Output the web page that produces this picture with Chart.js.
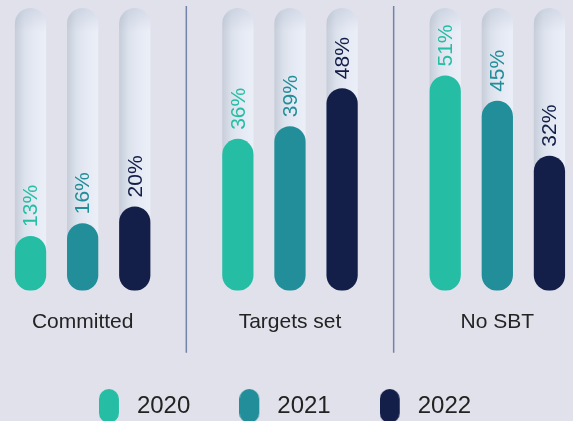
<!DOCTYPE html>
<html>
<head>
<meta charset="utf-8">
<title>SBT status by year</title>
<script src="https://cdn.jsdelivr.net/npm/chart.js@4.4.1/dist/chart.umd.min.js"></script>
<style>
  html, body { margin: 0; padding: 0; background: #e1e1eb; overflow: hidden; width: 573px; height: 421px; }
  #wrap { position: absolute; left: -21px; top: 0; width: 622px; height: 428px; }
</style>
</head>
<body>
<div id="wrap"><canvas id="sbtChart"></canvas></div>
<script>
// Chart data
const categories = ['Committed', 'Targets set', 'No SBT'];
const years = ['2020', '2021', '2022'];
const values2020 = [13, 36, 51];
const values2021 = [16, 39, 45];
const values2022 = [20, 48, 32];
const trackMax = [67, 67, 67];

const yearColors = ['#25bea5', '#228e99', '#131f49'];
const fontFamily = '"Liberation Sans", Arial, sans-serif';

Chart.defaults.font.family = fontFamily;

// Pill shaped legend markers (pill sits left of the image centre)
function makePill(color) {
    const c = document.createElement('canvas');
    c.width = 36;
    c.height = 34;
    const g = c.getContext('2d');
    g.fillStyle = color;
    g.beginPath();
    g.moveTo(0, 10);
    g.arc(10, 10, 10, Math.PI, 0);
    g.lineTo(20, 24);
    g.arc(10, 24, 10, 0, Math.PI);
    g.closePath();
    g.fill();
    return c;
}
const pills = yearColors.map(makePill);

function roundedBar(ctx, left, top, width, bottom) {
    const r = width / 2;
    ctx.beginPath();
    ctx.moveTo(left, top + r);
    ctx.arc(left + r, top + r, r, Math.PI, 0);
    ctx.lineTo(left + width, bottom - r);
    ctx.arc(left + r, bottom - r, r, 0, Math.PI);
    ctx.closePath();
}

// Draw the light tube tracks behind each bar
const trackPlugin = {
    id: 'tracks',
    beforeDatasetsDraw(chart) {
        const ctx = chart.ctx;
        chart.data.datasets.forEach((ds, di) => {
            if (!ds.isTrack) return;
            chart.getDatasetMeta(di).data.forEach(el => {
                const left = el.x - el.width / 2;
                const right = el.x + el.width / 2;
                ctx.save();
                roundedBar(ctx, left, el.y, el.width, el.base);
                const h = ctx.createLinearGradient(left, 0, right, 0);
                h.addColorStop(0, '#c6cdd9');
                h.addColorStop(0.3, '#dce2ec');
                h.addColorStop(0.65, '#e6eaf4');
                h.addColorStop(1, '#ebeff8');
                ctx.fillStyle = h;
                ctx.fill();
                const v = ctx.createLinearGradient(0, el.y, 0, el.y + 24);
                v.addColorStop(0, 'rgba(165,176,198,0.3)');
                v.addColorStop(1, 'rgba(165,176,198,0)');
                ctx.fillStyle = v;
                ctx.fill();
                ctx.restore();
            });
        });
    }
};

// Rotated percentage labels above the bars
const valueLabelPlugin = {
    id: 'valueLabels',
    afterDatasetsDraw(chart) {
        const ctx = chart.ctx;
        chart.data.datasets.forEach((ds, di) => {
            if (ds.isTrack) return;
            chart.getDatasetMeta(di).data.forEach((el, i) => {
                ctx.save();
                ctx.translate(el.x + 1, el.y - 9);
                ctx.rotate(-Math.PI / 2);
                ctx.font = '21px ' + fontFamily;
                ctx.fillStyle = ds.backgroundColor;
                ctx.textAlign = 'left';
                ctx.textBaseline = 'middle';
                ctx.fillText(ds.data[i] + '%', 0, 0);
                ctx.restore();
            });
        });
    }
};

// Vertical separators between the groups
const separatorPlugin = {
    id: 'separators',
    afterDraw(chart) {
        const xs = chart.scales.x;
        const area = chart.chartArea;
        const ctx = chart.ctx;
        ctx.save();
        ctx.strokeStyle = '#7483aa';
        ctx.lineWidth = 1.5;
        for (let i = 0; i < categories.length - 1; i++) {
            const px = (xs.getPixelForTick(i) + xs.getPixelForTick(i + 1)) / 2;
            ctx.beginPath();
            ctx.moveTo(px, area.top - 2);
            ctx.lineTo(px, area.bottom + 62);
            ctx.stroke();
        }
        ctx.restore();
    }
};

const valueSets = [values2020, values2021, values2022];

const datasets = [];
valueSets.forEach((vals, i) => {
    datasets.push({
        label: years[i],
        data: vals,
        backgroundColor: yearColors[i],
        stack: 's' + i,
        order: 0,
        borderRadius: 100,
        borderSkipped: false
    });
});
valueSets.forEach((vals, i) => {
    datasets.push({
        label: 'track ' + years[i],
        data: trackMax,
        isTrack: true,
        backgroundColor: 'rgba(0,0,0,0)',
        stack: 's' + i,
        order: 1
    });
});

const ctx = document.getElementById('sbtChart').getContext('2d');
new Chart(ctx, {
    type: 'bar',
    data: { labels: categories, datasets: datasets },
    plugins: [trackPlugin, valueLabelPlugin, separatorPlugin],
    options: {
        responsive: true,
        maintainAspectRatio: false,
        animation: false,
        events: [],
        layout: { padding: { top: 8 } },
        datasets: {
            bar: { categoryPercentage: 0.754, barPercentage: 0.6 }
        },
        scales: {
            x: {
                grid: { display: true, drawOnChartArea: false, color: 'rgba(0,0,0,0)', tickLength: 19 },
                border: { display: false },
                ticks: { padding: 0, color: '#232323', font: { size: 21 } }
            },
            y: {
                display: false,
                stacked: false,
                min: 0,
                max: 67
            }
        },
        plugins: {
            tooltip: { enabled: false },
            legend: {
                position: 'bottom',
                labels: {
                    usePointStyle: true,
                    pointStyleWidth: 16,
                    padding: 59,
                    color: '#222222',
                    font: { size: 24 },
                    generateLabels: () => years.map((y, i) => ({
                        text: y,
                        fillStyle: yearColors[i],
                        strokeStyle: yearColors[i],
                        lineWidth: 0,
                        pointStyle: pills[i],
                        hidden: false,
                        datasetIndex: i,
                        fontColor: '#222222'
                    }))
                }
            }
        }
    }
});
</script>
</body>
</html>
